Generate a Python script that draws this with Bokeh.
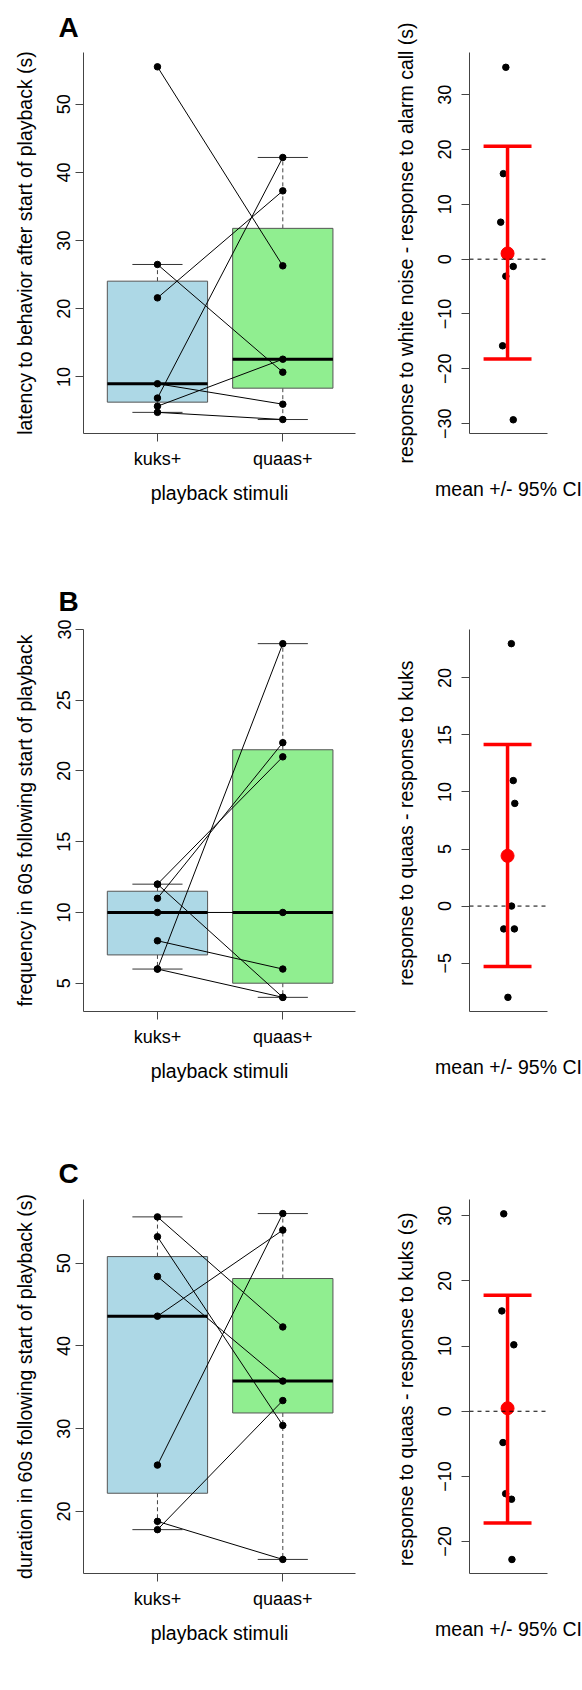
import math
from bokeh.plotting import figure
from bokeh.layouts import column, row
from bokeh.models import FixedTicker, Span
from bokeh.embed import file_html
from bokeh.resources import INLINE

FONT = "Liberation Sans"

# ---------------- data ----------------
categories = ["kuks+", "quaas+"]
box_colors = ["#ADD8E6", "#90EE90"]

# Panel A: latency (s), paired by index
a_kuks = [55.5, 26.5, 21.6, 9.0, 6.9, 5.7, 4.8]
a_quaas = [26.3, 10.7, 37.3, 6.0, 42.2, 12.6, 3.75]
a_diff = [35.0, 15.6, 6.75, -1.33, -3.1, -15.8, -29.3]
a_jitter = [-0.045, -0.11, -0.18, 0.15, -0.045, -0.13, 0.15]
a_mean = [1.04]
a_ci = [-18.2, 20.6]

# Panel B: frequency in 60 s, paired by index
b_kuks = [12, 12, 11, 10, 8, 6, 6]
b_quaas = [21, 4, 22, 10, 6, 29, 4]
b_diff = [23, 11, 9, 0, -2, -2, -8]
b_jitter = [0.10, 0.15, 0.19, 0.105, -0.10, 0.18, 0.01]
b_mean = [4.4]
b_ci = [-5.3, 14.15]

# Panel C: duration in 60 s (s), paired by index
c_kuks = [55.6, 53.2, 48.4, 43.6, 25.6, 18.8, 17.8]
c_quaas = [42.3, 30.4, 35.75, 54.0, 56.0, 14.2, 33.4]
c_diff = [30.3, 15.4, 10.2, -4.8, -12.65, -13.5, -22.75]
c_jitter = [-0.10, -0.15, 0.165, -0.12, -0.05, 0.105, 0.115]
c_mean = [0.46]
c_ci = [-17.15, 17.8]

a_yticks = [10, 20, 30, 40, 50]
a_dticks = [-30, -20, -10, 0, 10, 20, 30]
b_yticks = [5, 10, 15, 20, 25, 30]
b_dticks = [-5, 0, 5, 10, 15, 20]
c_yticks = [20, 30, 40, 50]
c_dticks = [-20, -10, 0, 10, 20, 30]

AX = "#444444"


def fivenum(v):
    s = sorted(v)
    n = len(s)
    n4 = math.floor((n + 3) / 2) / 2
    d = [1, n4, (n + 1) / 2, n + 1 - n4, n]
    return [0.5 * (s[math.floor(i) - 1] + s[math.ceil(i) - 1]) for i in d]


def box_stats(v):
    _, q1, med, q3, _ = fivenum(v)
    iqr = q3 - q1
    lo = min(x for x in v if x >= q1 - 1.5 * iqr)
    hi = max(x for x in v if x <= q3 + 1.5 * iqr)
    return lo, q1, med, q3, hi


def style_axes(p):
    p.xgrid.visible = False
    p.ygrid.visible = False
    p.outline_line_color = None
    for ax in (p.xaxis[0], p.yaxis[0]):
        ax.axis_line_color = AX
        ax.axis_line_width = 1
        ax.major_tick_line_color = AX
        ax.major_tick_out = 8
        ax.major_tick_in = 0
        ax.minor_tick_line_color = None
        ax.major_label_text_font = FONT
        ax.major_label_text_font_size = "18px"
        ax.major_label_text_color = "black"
        ax.axis_label_text_font = FONT
        ax.axis_label_text_font_size = "19.5px"
        ax.axis_label_text_font_style = "normal"
        ax.axis_label_text_color = "black"
    p.yaxis[0].major_label_orientation = "vertical"


def box_panel(kuks, quaas, yr, yticks, ylabel, letter, height, top, frame_h, letter_standoff):
    p = figure(width=380, height=height, x_range=(0.41, 2.58), y_range=yr,
               output_backend="svg", toolbar_location=None,
               min_border_left=83, min_border_right=25,
               min_border_top=top, min_border_bottom=height - top - frame_h)
    style_axes(p)
    p.title.text = letter
    p.title.align = "left"
    p.title.offset = -25
    p.title.standoff = letter_standoff
    p.title.text_font = FONT
    p.title.text_font_size = "28px"
    p.title.text_font_style = "bold"
    p.title.text_color = "black"

    p.xaxis[0].ticker = FixedTicker(ticks=[1, 2])
    p.xaxis[0].major_label_overrides = {1: categories[0], 2: categories[1]}
    p.xaxis[0].major_label_standoff = 7
    p.xaxis[0].axis_label = "playback stimuli"
    p.xaxis[0].axis_label_standoff = 10
    p.yaxis[0].ticker = FixedTicker(ticks=yticks)
    p.yaxis[0].major_label_standoff = 5
    p.yaxis[0].axis_label = ylabel
    p.yaxis[0].axis_label_standoff = 19

    stats = [box_stats(kuks), box_stats(quaas)]
    pos = [1, 2]
    lo = [s[0] for s in stats]
    q1 = [s[1] for s in stats]
    med = [s[2] for s in stats]
    q3 = [s[3] for s in stats]
    hi = [s[4] for s in stats]
    # whiskers
    p.segment(x0=pos, y0=q3, x1=pos, y1=hi, line_color=AX, line_dash="4 3", line_width=1)
    p.segment(x0=pos, y0=q1, x1=pos, y1=lo, line_color=AX, line_dash="4 3", line_width=1)
    # staples
    p.segment(x0=[x - 0.2 for x in pos], y0=hi, x1=[x + 0.2 for x in pos], y1=hi,
              line_color="#333333", line_width=1)
    p.segment(x0=[x - 0.2 for x in pos], y0=lo, x1=[x + 0.2 for x in pos], y1=lo,
              line_color="#333333", line_width=1)
    # boxes
    p.quad(left=[x - 0.4 for x in pos], right=[x + 0.4 for x in pos], bottom=q1, top=q3,
           fill_color=box_colors, line_color="#555555", line_width=1)
    # medians
    p.segment(x0=[x - 0.4 for x in pos], y0=med, x1=[x + 0.4 for x in pos], y1=med,
              line_color="black", line_width=3)
    # paired lines
    n = len(kuks)
    p.segment(x0=[1] * n, y0=kuks, x1=[2] * n, y1=quaas, line_color="black", line_width=1)
    p.scatter(x=[1] * n, y=kuks, size=6.5, color="black")
    p.scatter(x=[2] * n, y=quaas, size=6.5, color="black")
    return p


def diff_panel(diff, jitter, mean, ci, yr, yticks, ylabel, height, top, frame_h):
    p = figure(width=202, height=height, x_range=(0, 2.05), y_range=yr,
               output_backend="svg", toolbar_location=None,
               min_border_left=89, min_border_right=35,
               min_border_top=top, min_border_bottom=height - top - frame_h)
    style_axes(p)
    p.xaxis[0].ticker = FixedTicker(ticks=[])
    p.xaxis[0].major_tick_out = 0
    p.xaxis[0].axis_label = "mean +/- 95% CI"
    p.xaxis[0].axis_label_standoff = 44
    p.yaxis[0].ticker = FixedTicker(ticks=yticks)
    p.yaxis[0].major_label_standoff = 10
    p.yaxis[0].axis_label = ylabel
    p.yaxis[0].axis_label_standoff = 19

    p.add_layout(Span(location=0, dimension="width", line_color="black",
                      line_dash="4 4", line_width=1))
    xs = [1 + j for j in jitter]
    p.scatter(x=xs, y=diff, size=6.5, color="black")
    p.segment(x0=[1], y0=[ci[0]], x1=[1], y1=[ci[1]], line_color="red", line_width=3.5)
    p.segment(x0=[1 - 0.63, 1 - 0.63], y0=ci, x1=[1 + 0.63, 1 + 0.63], y1=ci,
              line_color="red", line_width=3.5)
    p.scatter(x=[1], y=mean, size=13, color="red")
    return p


# row A: 565 tall, frame top at 52
pA1 = box_panel(a_kuks, a_quaas, (1.7, 57.6), a_yticks,
                "latency to behavior after start of playback (s)", "A", 565, 52, 381, 19)
pA2 = diff_panel(a_diff, a_jitter, a_mean, a_ci, (-31.8, 37.7), a_dticks,
                 "response to white noise - response to alarm call (s)", 565, 52, 381)
# row B: 574 tall, frame top at 565 + 64 = 629
pB1 = box_panel(b_kuks, b_quaas, (3.0, 30.0), b_yticks,
                "frequency in 60s following start of playback", "B", 574, 64, 382, 26)
pB2 = diff_panel(b_diff, b_jitter, b_mean, b_ci, (-9.24, 24.24), b_dticks,
                 "response to  quaas - response to kuks", 574, 64, 382)
# row C: 551 tall, frame top at 1139 + 60 = 1199
pC1 = box_panel(c_kuks, c_quaas, (12.5, 57.7), c_yticks,
                "duration in 60s following start of playback (s)", "C", 551, 60, 374, 22)
pC2 = diff_panel(c_diff, c_jitter, c_mean, c_ci, (-24.9, 32.5), c_dticks,
                 "response to  quaas - response to kuks (s)", 551, 60, 374)

layout = column(row(pA1, pA2), row(pB1, pB2), row(pC1, pC2))

open("out.html", "w").write(file_html(layout, INLINE))
